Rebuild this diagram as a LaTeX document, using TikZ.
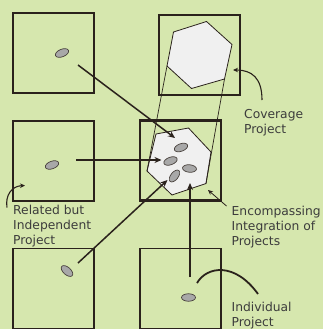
\documentclass[tikz,border=0pt]{standalone}
\usepackage{fontspec}
\setmainfont{DejaVu Sans}
\usetikzlibrary{arrows.meta,shapes.geometric}
\definecolor{bg}{HTML}{D6E7AE}
\definecolor{ink}{HTML}{2A221C}
\definecolor{txt}{HTML}{3C3C3C}
\definecolor{hexfill}{HTML}{F0F0F0}
\definecolor{dotfill}{HTML}{A8A8A8}

\begin{document}
\begin{tikzpicture}[x=1pt,y=-1pt,
  panel/.style={draw=ink, line width=1.3pt, minimum width=81pt, minimum height=80pt, inner sep=0pt},
  hubpanel/.style={panel, line width=2.6pt},
  dot/.style={ellipse, draw=ink!85, fill=dotfill, line width=0.7pt, minimum width=14pt, minimum height=7.5pt, inner sep=0pt},
  hexagon/.style={draw=ink, fill=hexfill, line width=0.8pt, line join=miter},
  feed/.style={draw=ink, line width=1.5pt, -{Stealth[length=7pt,width=6pt]}},
  guide/.style={draw=ink, line width=0.7pt},
  callout/.style={draw=ink, line width=1.1pt, -{Stealth[length=5pt,width=4.5pt]}},
  caption/.style={text=txt, font=\fontsize{12.3pt}{14.8pt}\selectfont, align=left, inner sep=0pt, anchor=base west}
]
% canvas
\path[use as bounding box, fill=bg] (0,0) rectangle (323,329);

% project panels
\node[panel] (pA) at (53.5,53) {};
\node[panel] (pB) at (199.5,55) {};
\node[panel] (pC) at (53.5,161) {};
\node[panel] (pE) at (53.5,288.5) {};
\node[panel] (pF) at (180.5,288.5) {};
\node[hubpanel] (pD) at (180.5,160.5) {};

% coverage hexagon
\coordinate (t1) at (173.5,32);
\coordinate (t2) at (206.5,21.5);
\coordinate (t3) at (232,44.5);
\coordinate (t4) at (224.5,79);
\coordinate (t5) at (191.5,88.5);
\coordinate (t6) at (167,66);
\draw[hexagon] (t1) -- (t2) -- (t3) -- (t4) -- (t5) -- (t6) -- cycle;

% encompassing hexagon
\coordinate (h1) at (156,134);
\coordinate (h2) at (188.5,128);
\coordinate (h3) at (211,152);
\coordinate (h4) at (206,183.5);
\coordinate (h5) at (172,195);
\coordinate (h6) at (147,171);
\draw[hexagon] (h1) -- (h2) -- (h3) -- (h4) -- (h5) -- (h6) -- cycle;

% projection lines between the hexagons
\draw[guide] (t6) -- (h6);
\draw[guide] (t4) -- (h4);

% project dots
\node[dot, rotate=22] (dA) at (62,53) {};
\node[dot, rotate=20] (dC) at (52,165) {};
\node[dot, rotate=-42] (dE) at (67,271) {};
\node[dot] (dF) at (188.5,297.5) {};
\node[dot, rotate=20] (d1) at (181,147.5) {};
\node[dot, rotate=20] (d2) at (170.5,161) {};
\node[dot, rotate=-5] (d3) at (189.5,168.5) {};
\node[dot, rotate=52] (d4) at (174.5,176) {};

% feeds into the encompassing project
\coordinate (sA) at (78,65);
\coordinate (eA) at (175,138);
\coordinate (sC) at (76,160);
\coordinate (eC) at (161.5,160);
\coordinate (sE) at (78,263);
\coordinate (eE) at (167.5,180);
\coordinate (sF) at (190,277);
\coordinate (eF) at (190,183);
\draw[feed] (sA) -- (eA);
\draw[feed] (sC) -- (eC);
\draw[feed] (sE) -- (eE);
\draw[feed] (sF) -- (eF);

% callouts
\coordinate (cvS) at (262,100);
\coordinate (cvE) at (233,70);
\draw[callout] (cvS) .. controls (262,78) and (252,70) .. (cvE);

\coordinate (riS) at (7,207.5);
\coordinate (riE) at (25,185.5);
\draw[callout] (riS) .. controls (5,195) and (12,186) .. (riE);

\coordinate (enS) at (226.5,206);
\coordinate (enE) at (208,190);
\draw[callout, line width=0.8pt] (enS) -- (enE);

\coordinate (inS) at (197,283);
\coordinate (inE) at (258,294);
\draw[draw=ink, line width=1.8pt] (inS) .. controls (207,266) and (235,262) .. (inE);

% captions (anchored at the baseline of their last line)
\node[caption] (lCov) at (244,133.5) {Coverage\\Project};
\node[caption] (lRel) at (13,244) {Related but\\Independent\\Project};
\node[caption] (lEnc) at (231.5,245.3) {Encompassing\\Integration of\\Projects};
\node[caption] (lInd) at (231.5,326) {Individual\\Project};
\end{tikzpicture}
\end{document}
